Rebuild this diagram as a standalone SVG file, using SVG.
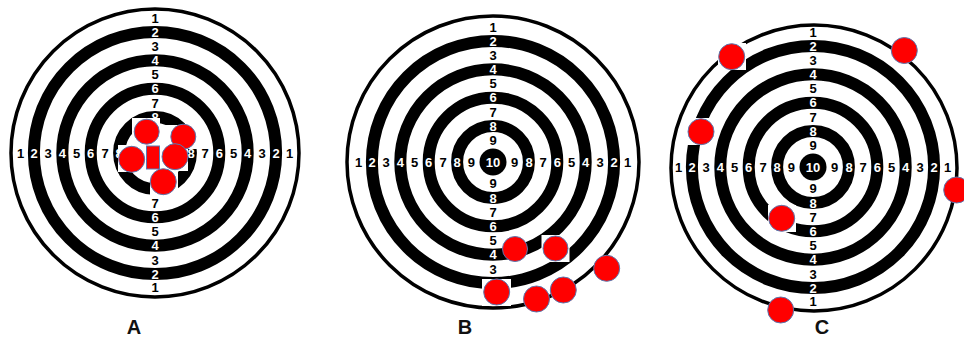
<svg xmlns="http://www.w3.org/2000/svg" width="964" height="339" viewBox="0 0 964 339">
<style>
.bg{fill:#fff}
.ring{fill:none;stroke:#000;stroke-width:12}
.disk{fill:#000}
.outer{fill:none;stroke:#000;stroke-width:3.5}
.lb{font-family:"Liberation Sans",Arial,sans-serif;font-weight:bold;font-size:13px;text-anchor:middle}
.k{fill:#000}
.w{fill:#fff}
.pad{fill:#fff}
.hit{fill:#ff0000;stroke:#5a78b0;stroke-width:1}
.cap{font-family:"Liberation Sans",Arial,sans-serif;font-weight:bold;font-size:20px;text-anchor:middle;fill:#111}
</style>
<rect class="bg" x="0" y="0" width="964" height="339"/>

<g id="targetA">
<circle class="outer" cx="155" cy="153" r="144"/>
<circle class="ring" cx="155" cy="153" r="121.1"/>
<circle class="ring" cx="155" cy="153" r="92.7"/>
<circle class="ring" cx="155" cy="153" r="64.3"/>
<circle class="ring" cx="155" cy="153" r="35.9"/>
<circle class="disk" cx="155" cy="153" r="13.5"/>
<g class="lb">
<text class="k" x="20.5" y="153" dy="0.35em">1</text>
<text class="w" x="34" y="153" dy="0.35em">2</text>
<text class="k" x="48" y="153" dy="0.35em">3</text>
<text class="w" x="62.3" y="153" dy="0.35em">4</text>
<text class="k" x="76.5" y="153" dy="0.35em">5</text>
<text class="w" x="90.7" y="153" dy="0.35em">6</text>
<text class="k" x="105" y="153" dy="0.35em">7</text>
<text class="w" x="119" y="153" dy="0.35em">8</text>
<text class="k" x="133.3" y="153" dy="0.35em">9</text>
<text class="w" x="155" y="153" dy="0.35em">10</text>
<text class="k" x="176.7" y="153" dy="0.35em">9</text>
<text class="w" x="191" y="153" dy="0.35em">8</text>
<text class="k" x="205" y="153" dy="0.35em">7</text>
<text class="w" x="219.3" y="153" dy="0.35em">6</text>
<text class="k" x="233.5" y="153" dy="0.35em">5</text>
<text class="w" x="247.7" y="153" dy="0.35em">4</text>
<text class="k" x="262" y="153" dy="0.35em">3</text>
<text class="w" x="276" y="153" dy="0.35em">2</text>
<text class="k" x="289.5" y="153" dy="0.35em">1</text>
<text class="k" x="155" y="18.5" dy="0.35em">1</text>
<text class="w" x="155" y="32" dy="0.35em">2</text>
<text class="k" x="155" y="46" dy="0.35em">3</text>
<text class="w" x="155" y="60.3" dy="0.35em">4</text>
<text class="k" x="155" y="74.5" dy="0.35em">5</text>
<text class="w" x="155" y="88.7" dy="0.35em">6</text>
<text class="k" x="155" y="103" dy="0.35em">7</text>
<text class="w" x="155" y="117" dy="0.35em">8</text>
<text class="k" x="155" y="131.3" dy="0.35em">9</text>
<text class="k" x="155" y="174.7" dy="0.35em">9</text>
<text class="w" x="155" y="189" dy="0.35em">8</text>
<text class="k" x="155" y="203" dy="0.35em">7</text>
<text class="w" x="155" y="217.3" dy="0.35em">6</text>
<text class="k" x="155" y="231.5" dy="0.35em">5</text>
<text class="w" x="155" y="245.7" dy="0.35em">4</text>
<text class="k" x="155" y="260" dy="0.35em">3</text>
<text class="w" x="155" y="274" dy="0.35em">2</text>
<text class="k" x="155" y="287.5" dy="0.35em">1</text>
</g>
</g>

<g id="hitsA">
<polygon class="pad" points="132,118 160,118 160,125 197,125 197,149 188,149 188,171 178,171 178,195 150,195 150,172 118,172 118,145 132,145"/>
<rect class="hit" x="146.5" y="146" width="13" height="23"/>
<circle class="hit" cx="146.7" cy="131.7" r="12.5"/>
<circle class="hit" cx="183.3" cy="136.7" r="12.5"/>
<circle class="hit" cx="131.7" cy="159.3" r="13"/>
<circle class="hit" cx="175" cy="156.7" r="13"/>
<circle class="hit" cx="163.3" cy="181.7" r="13"/>
</g>

<g id="targetB">
<circle class="outer" cx="493" cy="162" r="146"/>
<circle class="ring" cx="493" cy="162" r="121.1"/>
<circle class="ring" cx="493" cy="162" r="92.7"/>
<circle class="ring" cx="493" cy="162" r="64.3"/>
<circle class="ring" cx="493" cy="162" r="35.9"/>
<circle class="disk" cx="493" cy="162" r="13.5"/>
<g class="lb">
<text class="k" x="358.5" y="162" dy="0.35em">1</text>
<text class="w" x="372" y="162" dy="0.35em">2</text>
<text class="k" x="386" y="162" dy="0.35em">3</text>
<text class="w" x="400.3" y="162" dy="0.35em">4</text>
<text class="k" x="414.5" y="162" dy="0.35em">5</text>
<text class="w" x="428.7" y="162" dy="0.35em">6</text>
<text class="k" x="443" y="162" dy="0.35em">7</text>
<text class="w" x="457" y="162" dy="0.35em">8</text>
<text class="k" x="471.3" y="162" dy="0.35em">9</text>
<text class="w" x="493" y="162" dy="0.35em">10</text>
<text class="k" x="514.7" y="162" dy="0.35em">9</text>
<text class="w" x="529" y="162" dy="0.35em">8</text>
<text class="k" x="543" y="162" dy="0.35em">7</text>
<text class="w" x="557.3" y="162" dy="0.35em">6</text>
<text class="k" x="571.5" y="162" dy="0.35em">5</text>
<text class="w" x="585.7" y="162" dy="0.35em">4</text>
<text class="k" x="600" y="162" dy="0.35em">3</text>
<text class="w" x="614" y="162" dy="0.35em">2</text>
<text class="k" x="627.5" y="162" dy="0.35em">1</text>
<text class="k" x="493" y="27.5" dy="0.35em">1</text>
<text class="w" x="493" y="41" dy="0.35em">2</text>
<text class="k" x="493" y="55" dy="0.35em">3</text>
<text class="w" x="493" y="69.3" dy="0.35em">4</text>
<text class="k" x="493" y="83.5" dy="0.35em">5</text>
<text class="w" x="493" y="97.7" dy="0.35em">6</text>
<text class="k" x="493" y="112" dy="0.35em">7</text>
<text class="w" x="493" y="126" dy="0.35em">8</text>
<text class="k" x="493" y="140.3" dy="0.35em">9</text>
<text class="k" x="493" y="183.7" dy="0.35em">9</text>
<text class="w" x="493" y="198" dy="0.35em">8</text>
<text class="k" x="493" y="212" dy="0.35em">7</text>
<text class="w" x="493" y="226.3" dy="0.35em">6</text>
<text class="k" x="493" y="240.5" dy="0.35em">5</text>
<text class="w" x="493" y="254.7" dy="0.35em">4</text>
<text class="k" x="493" y="269" dy="0.35em">3</text>
<text class="w" x="493" y="283" dy="0.35em">2</text>
<text class="k" x="493" y="296.5" dy="0.35em">1</text>
</g>
</g>

<g id="hitsB">
<circle class="hit" cx="515" cy="249" r="12.5"/>
<rect class="pad" x="541.5" y="235" width="28" height="27"/>
<circle class="hit" cx="555.5" cy="248.5" r="12.5"/>
<circle class="hit" cx="606.7" cy="268.3" r="13"/>
<circle class="hit" cx="536.5" cy="299" r="13"/>
<circle class="hit" cx="563.3" cy="290" r="13"/>
<rect class="pad" x="482" y="279" width="29" height="27"/>
<circle class="hit" cx="496.7" cy="292" r="13"/>
</g>

<g id="targetC">
<circle class="outer" cx="814" cy="168" r="143"/>
<circle class="ring" cx="813" cy="167" r="121.1"/>
<circle class="ring" cx="813" cy="167" r="92.7"/>
<circle class="ring" cx="813" cy="167" r="64.3"/>
<circle class="ring" cx="813" cy="167" r="35.9"/>
<circle class="disk" cx="813" cy="167" r="13.5"/>
<g class="lb">
<text class="k" x="678.5" y="167" dy="0.35em">1</text>
<text class="w" x="692" y="167" dy="0.35em">2</text>
<text class="k" x="706" y="167" dy="0.35em">3</text>
<text class="w" x="720.3" y="167" dy="0.35em">4</text>
<text class="k" x="734.5" y="167" dy="0.35em">5</text>
<text class="w" x="748.7" y="167" dy="0.35em">6</text>
<text class="k" x="763" y="167" dy="0.35em">7</text>
<text class="w" x="777" y="167" dy="0.35em">8</text>
<text class="k" x="791.3" y="167" dy="0.35em">9</text>
<text class="w" x="813" y="167" dy="0.35em">10</text>
<text class="k" x="834.7" y="167" dy="0.35em">9</text>
<text class="w" x="849" y="167" dy="0.35em">8</text>
<text class="k" x="863" y="167" dy="0.35em">7</text>
<text class="w" x="877.3" y="167" dy="0.35em">6</text>
<text class="k" x="891.5" y="167" dy="0.35em">5</text>
<text class="w" x="905.7" y="167" dy="0.35em">4</text>
<text class="k" x="920" y="167" dy="0.35em">3</text>
<text class="w" x="934" y="167" dy="0.35em">2</text>
<text class="k" x="947.5" y="167" dy="0.35em">1</text>
<text class="k" x="813" y="32.5" dy="0.35em">1</text>
<text class="w" x="813" y="46" dy="0.35em">2</text>
<text class="k" x="813" y="60" dy="0.35em">3</text>
<text class="w" x="813" y="74.3" dy="0.35em">4</text>
<text class="k" x="813" y="88.5" dy="0.35em">5</text>
<text class="w" x="813" y="102.7" dy="0.35em">6</text>
<text class="k" x="813" y="117" dy="0.35em">7</text>
<text class="w" x="813" y="131" dy="0.35em">8</text>
<text class="k" x="813" y="145.3" dy="0.35em">9</text>
<text class="k" x="813" y="188.7" dy="0.35em">9</text>
<text class="w" x="813" y="203" dy="0.35em">8</text>
<text class="k" x="813" y="217" dy="0.35em">7</text>
<text class="w" x="813" y="231.3" dy="0.35em">6</text>
<text class="k" x="813" y="245.5" dy="0.35em">5</text>
<text class="w" x="813" y="259.7" dy="0.35em">4</text>
<text class="k" x="813" y="274" dy="0.35em">3</text>
<text class="w" x="813" y="288" dy="0.35em">2</text>
<text class="k" x="813" y="301.5" dy="0.35em">1</text>
</g>
</g>

<g id="hitsC">
<rect class="pad" x="718" y="43" width="28" height="27"/>
<circle class="hit" cx="731.7" cy="56.7" r="13"/>
<circle class="hit" cx="904.3" cy="50.5" r="13"/>
<rect class="pad" x="687" y="118" width="28" height="27"/>
<circle class="hit" cx="701" cy="131.7" r="13"/>
<circle class="hit" cx="956.7" cy="190" r="13"/>
<rect class="pad" x="768" y="205" width="28" height="27"/>
<circle class="hit" cx="781.7" cy="218.3" r="13"/>
<circle class="hit" cx="780.7" cy="310" r="13"/>
</g>

<g id="captions">
<text class="cap" x="134" y="334">A</text>
<text class="cap" x="465" y="334">B</text>
<text class="cap" x="822" y="334">C</text>
</g>
</svg>
